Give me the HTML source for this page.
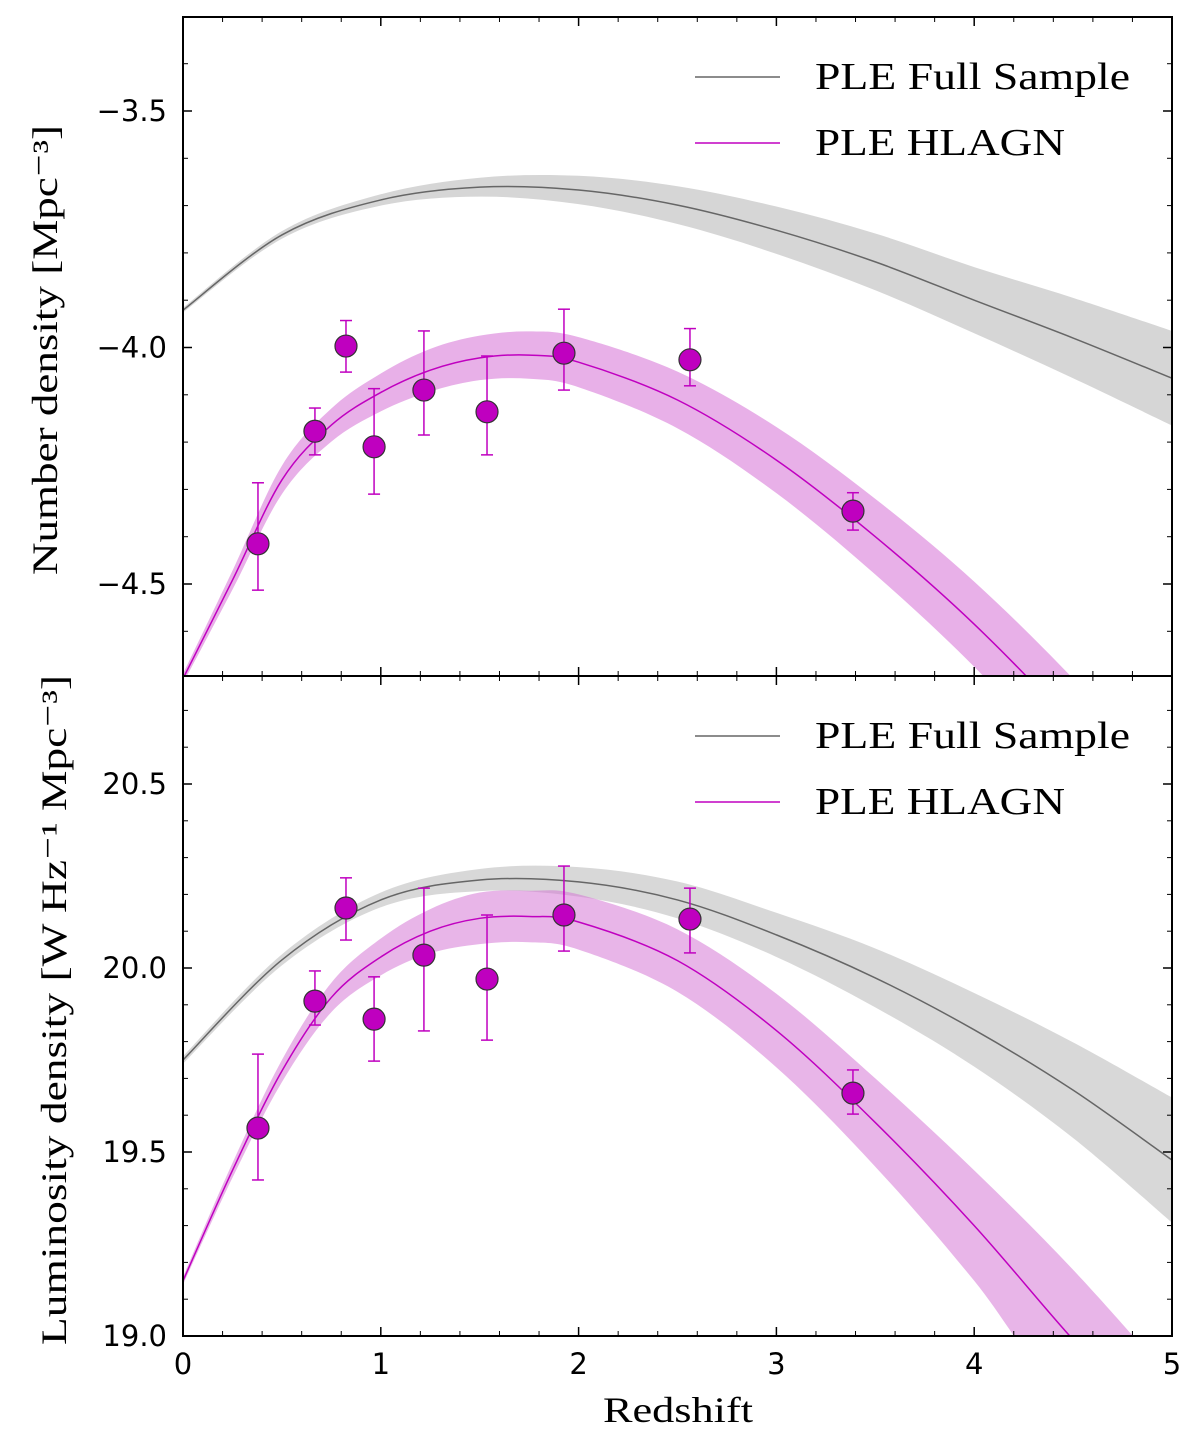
<!DOCTYPE html>
<html><head><meta charset="utf-8"><style>
html,body{margin:0;padding:0;background:#fff;width:1200px;height:1451px;overflow:hidden}
svg{display:block}
.tk{font-family:"DejaVu Sans","Liberation Sans",sans-serif;font-size:29px;fill:#000}
.sr{font-family:"Liberation Serif","DejaVu Serif",serif;fill:#000}
</style></head><body>
<svg id="c" width="1200" height="1451" xmlns="http://www.w3.org/2000/svg">
<defs>
<clipPath id="cpTop"><rect x="183" y="17" width="989" height="659"/></clipPath>
<clipPath id="cpBot"><rect x="183" y="676" width="989" height="660"/></clipPath>
</defs>
</svg>
<script>
const zPts=[0.379,0.667,0.824,0.966,1.218,1.537,1.926,2.563,3.387];
const topVals=[-4.415,-4.177,-3.997,-4.210,-4.090,-4.136,-4.012,-4.026,-4.346];
const topHi=[-4.286,-4.128,-3.943,-4.087,-3.965,-4.018,-3.919,-3.960,-4.307];
const topLo=[-4.513,-4.227,-4.052,-4.310,-4.185,-4.227,-4.090,-4.081,-4.386];
const botVals=[19.565,19.910,20.163,19.861,20.035,19.970,20.144,20.133,19.660];
const botHi=[19.766,19.992,20.245,19.976,20.217,20.144,20.277,20.217,19.723];
const botLo=[19.424,19.845,20.076,19.747,19.829,19.804,20.046,20.041,19.603];
const zGray=[0,0.5,1,1.5,2,2.5,3,3.5,4,4.5,5];
const topGray=[-3.921,-3.762,-3.688,-3.661,-3.667,-3.699,-3.752,-3.819,-3.900,-3.980,-4.065];
const topGrayW=[0.005,0.008,0.012,0.02,0.03,0.04,0.05,0.06,0.07,0.085,0.1];
const botGray=[19.75,20.022,20.185,20.239,20.234,20.185,20.090,19.973,19.832,19.668,19.478];
const botGrayW=[0.01,0.015,0.02,0.03,0.04,0.05,0.06,0.08,0.1,0.13,0.17];
const zMag=[0,0.25,0.5,0.75,1,1.25,1.5,1.75,2,2.5,3,3.5,4,4.5,5];
const topMag=[-4.70,-4.492,-4.280,-4.164,-4.095,-4.048,-4.022,-4.016,-4.031,-4.111,-4.238,-4.400,-4.585,-4.800,-5.040];
const topMagW=[0.01,0.02,0.03,0.035,0.04,0.045,0.047,0.05,0.053,0.06,0.07,0.08,0.09,0.1,0.11];
const botMag=[19.15,19.45,19.72,19.92,20.03,20.10,20.135,20.14,20.125,20.02,19.83,19.58,19.30,18.99,18.65];
const botMagW=[0.01,0.02,0.03,0.04,0.05,0.06,0.07,0.07,0.075,0.085,0.1,0.12,0.15,0.19,0.23];
const xTicks=[0,1,2,3,4,5];
const topTicks=[-3.5,-4.0,-4.5];
const botTicks=[19.0,19.5,20.0,20.5];

const NS="http://www.w3.org/2000/svg";
const svg=document.getElementById('c');
const X=z=>183+z*197.8;
const Yt=v=>Math.max(5,Math.min(1445,111-(v+3.5)*473));
const Yb=v=>Math.max(5,Math.min(1445,784-(v-20.5)*368));
function el(t,a,p){const e=document.createElementNS(NS,t);for(const k in a)e.setAttribute(k,a[k]);(p||svg).appendChild(e);return e;}
function spline(xs,ys){
  let d=`M${xs[0]},${ys[0]}`;
  for(let i=0;i<xs.length-1;i++){
    const x0=xs[Math.max(i-1,0)],y0=ys[Math.max(i-1,0)],x3=xs[Math.min(i+2,xs.length-1)],y3=ys[Math.min(i+2,xs.length-1)];
    const c1x=xs[i]+(xs[i+1]-x0)/6,c1y=ys[i]+(ys[i+1]-y0)/6,c2x=xs[i+1]-(x3-xs[i])/6,c2y=ys[i+1]-(y3-ys[i])/6;
    d+=` C${c1x},${c1y} ${c2x},${c2y} ${xs[i+1]},${ys[i+1]}`;
  }
  return d;
}
function band(zs,vs,ws,Y,fill,clip,name){
  const xs=zs.map(X);
  const up=spline(xs,vs.map((v,i)=>Y(v+ws[i])));
  const rx=xs.slice().reverse(),ry=vs.map((v,i)=>Y(v-ws[i])).reverse();
  const lo=spline(rx,ry).replace(/^M/,'L');
  const e=el('path',{d:up+' '+lo+' Z',fill:fill,stroke:'none','clip-path':clip});
  
  
}
function line(zs,vs,Y,col,clip,name){
  const e=el('path',{d:spline(zs.map(X),vs.map(Y)),fill:'none',stroke:col,'stroke-width':1.5,'clip-path':clip});
  
  
}
function points(vals,hi,lo,Y,pfx){
  zPts.forEach((z,i)=>{
    const x=X(z);
    const g=el('g',{});
    
    
    el('line',{x1:x,x2:x,y1:Y(hi[i]),y2:Y(lo[i]),stroke:'#c000c0','stroke-width':1.5},g);
    el('line',{x1:x-6,x2:x+6,y1:Y(hi[i]),y2:Y(hi[i]),stroke:'#c000c0','stroke-width':1.5},g);
    el('line',{x1:x-6,x2:x+6,y1:Y(lo[i]),y2:Y(lo[i]),stroke:'#c000c0','stroke-width':1.5},g);
    el('circle',{cx:x,cy:Y(vals[i]),r:11,fill:'#bf00bf',stroke:'#333','stroke-width':1.2},g);
  });
}
function txt(x,y,s,cls,extra,name){
  const e=el('text',Object.assign({x:x,y:y,class:cls},extra||{}));
  e.textContent=s;
  
  
  return e;
}
band(zGray,topGray,topGrayW,Yt,'#d6d6d6','url(#cpTop)','top-full-sample-band');
band(zMag,topMag,topMagW,Yt,'#e8b0e8','url(#cpTop)','top-hlagn-band');
line(zGray,topGray,Yt,'#666','url(#cpTop)','top-full-sample-line');
line(zMag,topMag,Yt,'#c000c0','url(#cpTop)','top-hlagn-line');
points(topVals,topHi,topLo,Yt,'top');
band(zGray,botGray,botGrayW,Yb,'rgba(190,190,190,0.6)','url(#cpBot)','bottom-full-sample-band');
band(zMag,botMag,botMagW,Yb,'rgba(214,120,214,0.55)','url(#cpBot)','bottom-hlagn-band');
line(zGray,botGray,Yb,'#666','url(#cpBot)','bottom-full-sample-line');
line(zMag,botMag,Yb,'#c000c0','url(#cpBot)','bottom-hlagn-line');
points(botVals,botHi,botLo,Yb,'bottom');
let f=el('rect',{x:183,y:17,width:989,height:659,fill:'none',stroke:'#000','stroke-width':2});

f=el('rect',{x:183,y:676,width:989,height:660,fill:'none',stroke:'#000','stroke-width':2});

for(let k=1;k<25;k++){ if(k%5===0) continue; const x=X(k*0.2);
  [[17,676],[676,1336]].forEach(([a,b])=>{
    el('line',{x1:x,x2:x,y1:b,y2:b-5,stroke:'#000','stroke-width':1});
    el('line',{x1:x,x2:x,y1:a,y2:a+5,stroke:'#000','stroke-width':1});
  });
}
for(let k=-46;k<=-34;k++){ if(k%5===0) continue; const y=Yt(k/10); if(y<17||y>676) continue;
  el('line',{x1:183,x2:188,y1:y,y2:y,stroke:'#000','stroke-width':1});
  el('line',{x1:1172,x2:1167,y1:y,y2:y,stroke:'#000','stroke-width':1});
}
for(let k=191;k<=207;k++){ if(k%5===0) continue; const y=Yb(k/10); if(y<676||y>1336) continue;
  el('line',{x1:183,x2:188,y1:y,y2:y,stroke:'#000','stroke-width':1});
  el('line',{x1:1172,x2:1167,y1:y,y2:y,stroke:'#000','stroke-width':1});
}
xTicks.forEach(t=>{
  const x=X(t);
  [[17,676],[676,1336]].forEach(([a,b])=>{
    el('line',{x1:x,x2:x,y1:b,y2:b-9,stroke:'#000','stroke-width':1.5});
    el('line',{x1:x,x2:x,y1:a,y2:a+9,stroke:'#000','stroke-width':1.5});
  });
  txt(x,1374,String(t),'tk',{'text-anchor':'middle'},'x-tick-label-'+t);
});
topTicks.forEach(t=>{
  const y=Yt(t);
  el('line',{x1:183,x2:192,y1:y,y2:y,stroke:'#000','stroke-width':1.5});
  el('line',{x1:1172,x2:1163,y1:y,y2:y,stroke:'#000','stroke-width':1.5});
  txt(167,y+10,(t).toFixed(1).replace('-','\u2212'),'tk',{'text-anchor':'end'},'top-y-tick-label');
});
botTicks.forEach(t=>{
  const y=Yb(t);
  el('line',{x1:183,x2:192,y1:y,y2:y,stroke:'#000','stroke-width':1.5});
  el('line',{x1:1172,x2:1163,y1:y,y2:y,stroke:'#000','stroke-width':1.5});
  txt(167,y+10,t.toFixed(1),'tk',{'text-anchor':'end'},'bottom-y-tick-label');
});
txt(678,1422,'Redshift','sr',{'text-anchor':'middle','font-size':36,textLength:150,lengthAdjust:'spacingAndGlyphs'},'x-axis-title');
txt(0,0,'Number density [Mpc\u207B\u00B3]','sr',{'text-anchor':'middle','font-size':36,textLength:450,lengthAdjust:'spacingAndGlyphs',transform:'translate(57,350) rotate(-90)'},'top-y-axis-title');
txt(0,0,'Luminosity density [W Hz\u207B\u00B9 Mpc\u207B\u00B3]','sr',{'text-anchor':'middle','font-size':36,textLength:670,lengthAdjust:'spacingAndGlyphs',transform:'translate(66,1010) rotate(-90)'},'bottom-y-axis-title');
[[77,'top'],[736,'bottom']].forEach(([y,p])=>{
  const g=el('g',{});
  el('line',{x1:695,x2:780,y1:y,y2:y,stroke:'#666','stroke-width':1.5},g);
  el('line',{x1:695,x2:780,y1:y+66,y2:y+66,stroke:'#c000c0','stroke-width':1.5},g);
  const a=el('text',{x:815,y:y+12,class:'sr','font-size':38,textLength:315,lengthAdjust:'spacingAndGlyphs'},g);a.textContent='PLE Full Sample';
  
  const b=el('text',{x:815,y:y+78,class:'sr','font-size':38,textLength:250,lengthAdjust:'spacingAndGlyphs'},g);b.textContent='PLE HLAGN';
  
});
</script>
</body></html>
